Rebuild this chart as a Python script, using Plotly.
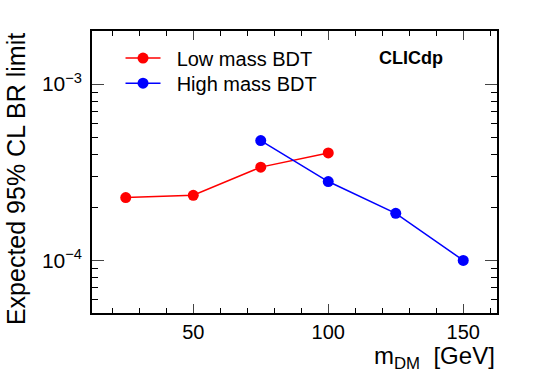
import plotly.graph_objects as go
import numpy as np

low_mass_x = [25, 50, 75, 100]
low_mass_y = [2.27e-4, 2.34e-4, 3.38e-4, 4.07e-4]
high_mass_x = [75, 100, 125, 150]
high_mass_y = [4.78e-4, 2.80e-4, 1.85e-4, 1.0e-4]

x_tickvals = [50, 100, 150]
y_tickvals = [1e-4, 1e-3]
y_ticktext = ["10<sup>\u22124</sup>", "10<sup>\u22123</sup>"]
y_minor = [5e-5, 6e-5, 7e-5, 8e-5, 9e-5] + [k * 1e-4 for k in range(2, 10)] + [2e-3]

FONT = "Liberation Sans, Arial, Helvetica, sans-serif"
NB = "\u00a0\u00a0"

fig = go.Figure()
fig.add_trace(go.Scatter(x=low_mass_x, y=low_mass_y, mode="lines+markers", name=NB + "Low mass BDT",
                         line=dict(color="#ff0000", width=1.5), marker=dict(color="#ff0000", size=11),
                         legend="legend"))
fig.add_trace(go.Scatter(x=high_mass_x, y=high_mass_y, mode="lines+markers", name=NB + "High mass BDT",
                         line=dict(color="#0000ff", width=1.5), marker=dict(color="#0000ff", size=11),
                         legend="legend2"))

leg_common = dict(xanchor="left", yanchor="middle", bgcolor="rgba(0,0,0,0)",
                  font=dict(size=20, family=FONT, color="black"), itemwidth=35)

fig.update_layout(
    width=540, height=383,
    margin=dict(l=92, r=43, t=31, b=70),
    paper_bgcolor="white", plot_bgcolor="white",
    font=dict(family=FONT, color="black", size=20),
    showlegend=True,
    legend=dict(x=0.0704, y=0.904, **leg_common),
    legend2=dict(x=0.0704, y=0.815, **leg_common),
    xaxis=dict(range=[12.5, 162.5], tickvals=x_tickvals, ticks="inside", ticklen=9, tickwidth=1,
               showgrid=False, zeroline=False, showline=True, linecolor="black", linewidth=1.5,
               mirror="ticks", tickfont=dict(size=20),
               minor=dict(tickvals=[v for v in range(20, 161, 10) if v not in x_tickvals],
                          ticks="inside", ticklen=5, tickcolor="black", showgrid=False)),
    yaxis=dict(type="log", range=[np.log10(5.03e-5), np.log10(2.0e-3)], tickvals=y_tickvals,
               ticktext=y_ticktext, ticks="inside", ticklen=12, tickwidth=1,
               showgrid=False, zeroline=False, showline=True, linecolor="black", linewidth=1.5,
               mirror="ticks", tickfont=dict(size=21), ticklabelstandoff=4,
               minor=dict(tickvals=y_minor, ticks="inside", ticklen=6, tickcolor="black", showgrid=False)),
)

fig.add_annotation(text="<b>CLICdp</b>", xref="paper", yref="paper", x=0.704, y=0.904, xanchor="left",
                   yanchor="middle", showarrow=False, font=dict(size=18, family=FONT, color="black"))
fig.add_annotation(text="m<sub>DM</sub>  [GeV]", xref="paper", yref="paper", x=1.0, y=-0.097,
                   xanchor="right", yanchor="top", showarrow=False, font=dict(size=24, family=FONT))
fig.add_annotation(text="Expected 95% CL BR limit", xref="paper", yref="paper", x=-0.148, y=1.0,
                   xanchor="right", yanchor="top", textangle=-90, showarrow=False,
                   font=dict(size=25, family=FONT))

fig.write_html("out.html", post_script="document.body.style.margin='0';",
               config={"displayModeBar": False})
